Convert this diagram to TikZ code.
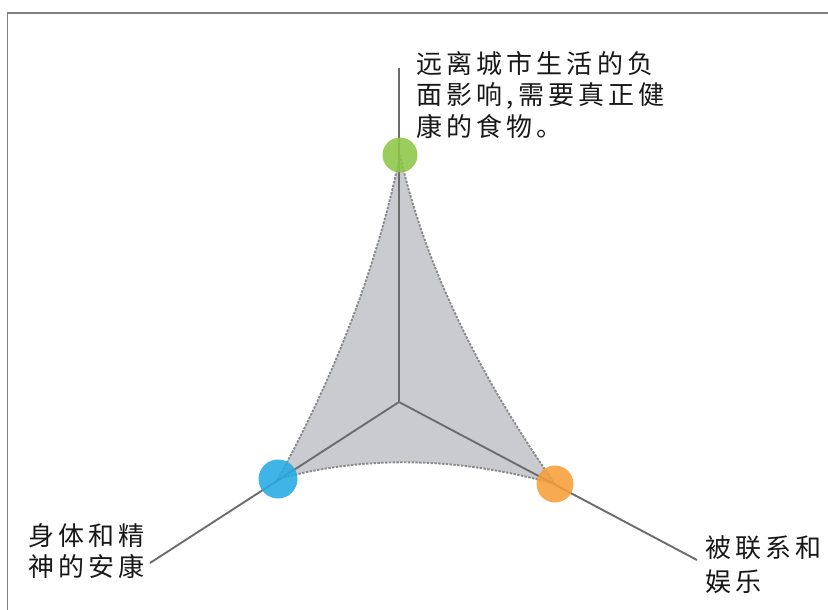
\documentclass[tikz,border=0pt]{standalone}
\usepackage{fontspec}
\newfontfamily\cjk{Noto Sans CJK SC}[LetterSpace=16]
\definecolor{framegray}{RGB}{128,128,128}
\definecolor{axisgray}{RGB}{108,108,108}
\definecolor{shapefill}{RGB}{202,203,206}
\definecolor{shapeedge}{RGB}{138,138,140}
\definecolor{dotgreen}{RGB}{140,198,70}
\definecolor{dotblue}{RGB}{36,170,228}
\definecolor{dotorange}{RGB}{247,158,56}
\definecolor{textc}{RGB}{24,24,24}
\begin{document}
\begin{tikzpicture}[x=1pt,y=-1pt,
  axis/.style={draw=axisgray,line width=1.9pt},
  dot/.style={circle,minimum size=#1,inner sep=0pt,fill opacity=0.88},
  lbl/.style={font=\cjk\fontsize{26}{31.5}\selectfont,text=textc,inner sep=0pt,align=left,anchor=north west}]
\path[use as bounding box] (0,0) rectangle (828,610);
% frame
\draw[framegray,line width=1.5pt] (7.5,610) -- (7.5,13) -- (828,13);
% points
\coordinate (c) at (399,402);
\coordinate (topend) at (399,68);
\coordinate (leftend) at (150,563);
\coordinate (rightend) at (697,560);
\coordinate (gc) at (400,155);
\coordinate (bc) at (278,479);
\coordinate (oc) at (555,484);
% shape
\path[fill=shapefill,draw=shapeedge,line width=1.9pt,dash pattern=on 2.4pt off 1.4pt]
  (gc) .. controls (378,263) and (337,371) .. (bc)
       .. controls (366,455) and (458,457) .. (oc)
       .. controls (476,371) and (424,262) .. (gc) -- cycle;
% axes
\draw[axis] (c) -- (topend);
\draw[axis] (c) -- (leftend);
\draw[axis] (c) -- (rightend);
% dots
\node[dot=35pt,fill=dotgreen] (g) at (gc) {};
\node[dot=39pt,fill=dotblue] (b) at (bc) {};
\node[dot=37pt,fill=dotorange] (o) at (oc) {};
% labels
\node[lbl] (tt) at (416,51) {远离城市生活的负\\面影响,需要真正健\\康的食物。};
\node[lbl] (tl) at (28,523) {身体和精\\神的安康};
\node[lbl,font=\cjk\fontsize{26}{34}\selectfont] (tr) at (705,535) {被联系和\\娱乐};
\end{tikzpicture}
\end{document}
